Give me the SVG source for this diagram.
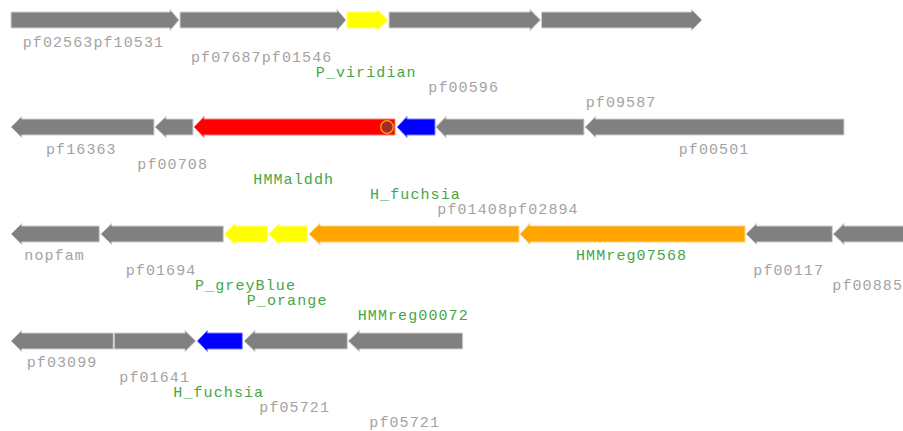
<svg xmlns="http://www.w3.org/2000/svg" width="903" height="431" viewBox="0 0 903 431">
<style>
.g{fill:#808080;stroke:#d0d0d0;stroke-width:1}
.y{fill:#ffff00;stroke:#ffff80;stroke-width:1}
.r{fill:#ff0000;stroke:#ff8080;stroke-width:1}
.b{fill:#0000ff;stroke:#8080ff;stroke-width:1}
.o{fill:#ffa500;stroke:#ffd280;stroke-width:1}
text{font-family:"Liberation Mono","Courier New",monospace;font-size:15px;letter-spacing:1.1px}
.lg{fill:#a3a3a3}
.lt{fill:#46a646}
</style>
<rect width="903" height="431" fill="#ffffff"/>
<g id="row1">
<g id="g1"><polygon class="g" points="11,12 170,12 170,9.5 179,20 170,30.5 170,28 11,28"/></g>
<g id="g2"><polygon class="g" points="180,12 337,12 337,9.5 346,20 337,30.5 337,28 180,28"/></g>
<g id="g3"><polygon class="y" points="347,12 377,12 377,9.5 388,20 377,30.5 377,28 347,28"/></g>
<g id="g4"><polygon class="g" points="389,12 530,12 530,9.5 540.5,20 530,30.5 530,28 389,28"/></g>
<g id="g5"><polygon class="g" points="541.5,12 691.5,12 691.5,9.5 702,20 691.5,30.5 691.5,28 541.5,28"/></g>
</g>
<g id="row2">
<g id="g6"><polygon class="g" points="11,127 21.7,116.5 21.7,119 154,119 154,135 21.7,135 21.7,137.5"/></g>
<g id="g7"><polygon class="g" points="155,127 166,116.5 166,119 193,119 193,135 166,135 166,137.5"/></g>
<g id="g8"><polygon class="r" points="194,127 204,116.5 204,119 395,119 395,135 204,135 204,137.5"/><circle cx="387" cy="127" r="6.3" fill="#a52a2a" stroke="#f0b000" stroke-width="1.3"/></g>
<g id="g9"><polygon class="b" points="397,127 407,116.5 407,119 435,119 435,135 407,135 407,137.5"/></g>
<g id="g10"><polygon class="g" points="435.7,127 446,116.5 446,119 584,119 584,135 446,135 446,137.5"/></g>
<g id="g11"><polygon class="g" points="585,127 595.7,116.5 595.7,119 844,119 844,135 595.7,135 595.7,137.5"/></g>
</g>
<g id="row3">
<g id="g12"><polygon class="g" points="11,234 21.7,223.5 21.7,226 99.3,226 99.3,242 21.7,242 21.7,244.5"/></g>
<g id="g13"><polygon class="g" points="100.7,234 111.7,223.5 111.7,226 223.3,226 223.3,242 111.7,242 111.7,244.5"/></g>
<g id="g14"><polygon class="y" points="224.3,234 235,223.5 235,226 267.3,226 267.3,242 235,242 235,244.5"/></g>
<g id="g15"><polygon class="y" points="268.7,234 279.3,223.5 279.3,226 307.3,226 307.3,242 279.3,242 279.3,244.5"/></g>
<g id="g16"><polygon class="o" points="309,234 320,223.5 320,226 519,226 519,242 320,242 320,244.5"/></g>
<g id="g17"><polygon class="o" points="520,234 530,223.5 530,226 745,226 745,242 530,242 530,244.5"/></g>
<g id="g18"><polygon class="g" points="746,234 756.7,223.5 756.7,226 832.3,226 832.3,242 756.7,242 756.7,244.5"/></g>
<g id="g19"><polygon class="g" points="833.3,234 844,223.5 844,226 910,226 910,242 844,242 844,244.5"/></g>
</g>
<g id="row4">
<g id="g20"><polygon class="g" points="11,341 21.7,330.5 21.7,333 113.3,333 113.3,349 21.7,349 21.7,351.5"/></g>
<g id="g21"><polygon class="g" points="114.3,333 185,333 185,330.5 195.7,341 185,351.5 185,349 114.3,349"/></g>
<g id="g22"><polygon class="b" points="197.3,341 207.3,330.5 207.3,333 242.3,333 242.3,349 207.3,349 207.3,351.5"/></g>
<g id="g23"><polygon class="g" points="244,341 255,330.5 255,333 347.3,333 347.3,349 255,349 255,351.5"/></g>
<g id="g24"><polygon class="g" points="348.3,341 359.3,330.5 359.3,333 462.7,333 462.7,349 359.3,349 359.3,351.5"/></g>
</g>
<g id="labels">
<text class="lg" x="22.7" y="47">pf02563pf10531</text>
<text class="lg" x="191" y="62">pf07687pf01546</text>
<text class="lt" x="315.7" y="77">P_viridian</text>
<text class="lg" x="428.3" y="92">pf00596</text>
<text class="lg" x="585.7" y="107">pf09587</text>
<text class="lg" x="46" y="154">pf16363</text>
<text class="lg" x="678.7" y="154">pf00501</text>
<text class="lg" x="137.3" y="169">pf00708</text>
<text class="lt" x="253.3" y="184">HMMalddh</text>
<text class="lt" x="370" y="199">H_fuchsia</text>
<text class="lg" x="437.3" y="214">pf01408pf02894</text>
<text class="lg" x="24.3" y="260">nopfam</text>
<text class="lt" x="576" y="260">HMMreg07568</text>
<text class="lg" x="125.7" y="275">pf01694</text>
<text class="lg" x="753.3" y="275">pf00117</text>
<text class="lt" x="195" y="290">P_greyBlue</text>
<text class="lg" x="832.3" y="290">pf00885</text>
<text class="lt" x="246.7" y="305">P_orange</text>
<text class="lt" x="357.7" y="320">HMMreg00072</text>
<text class="lg" x="26.7" y="367">pf03099</text>
<text class="lg" x="119.3" y="382">pf01641</text>
<text class="lt" x="173.3" y="397">H_fuchsia</text>
<text class="lg" x="259.3" y="412">pf05721</text>
<text class="lg" x="369.3" y="427">pf05721</text>
</g>
</svg>
